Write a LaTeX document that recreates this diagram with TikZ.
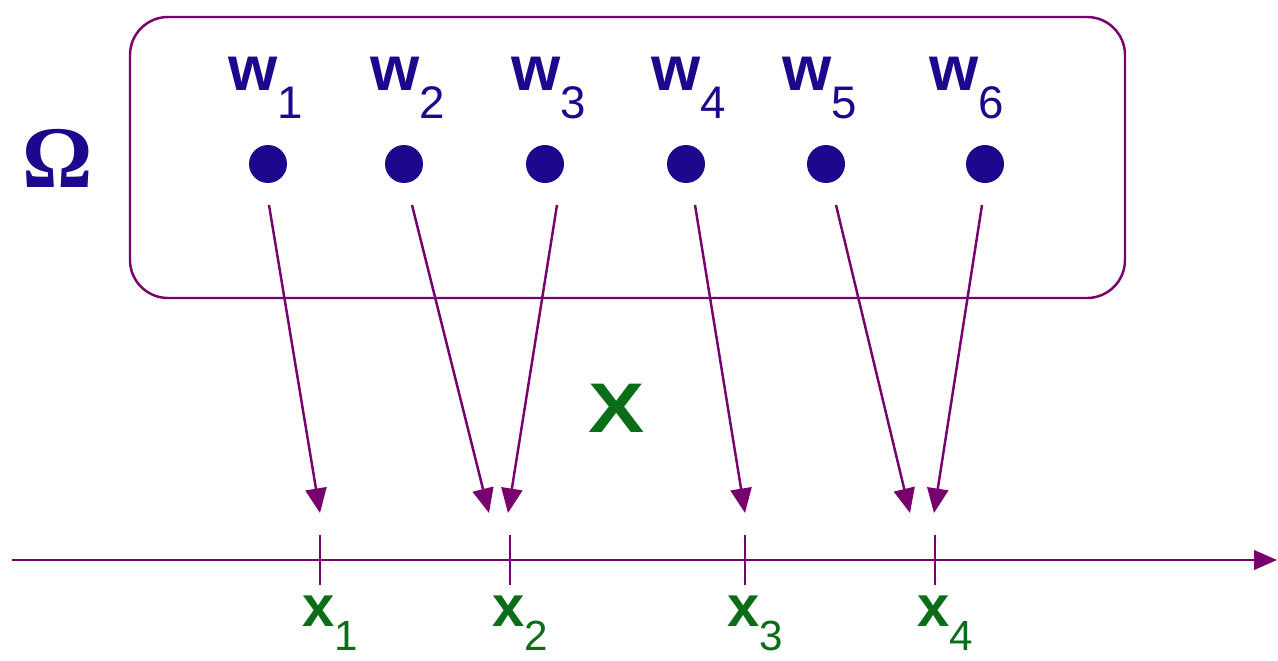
\documentclass[tikz,border=0pt]{standalone}
\usepackage{fontspec}
\setmainfont{Liberation Sans}
\newfontfamily\omegafont{Liberation Serif}
\usetikzlibrary{arrows.meta}
\definecolor{dotblue}{RGB}{28,8,140}
\definecolor{lineviolet}{RGB}{120,0,110}
\definecolor{labgreen}{RGB}{10,110,25}
\newcommand{\wsub}[1]{\raisebox{-16pt}{\mdseries\fontsize{26}{26}\selectfont #1}}
\newcommand{\xsub}[1]{\raisebox{-14pt}{\mdseries\fontsize{24}{24}\selectfont #1}}
\begin{document}
\begin{tikzpicture}[x=0.02cm,y=-0.02cm,
  dot/.style={circle,fill=dotblue,inner sep=0pt,minimum size=0.76cm},
  wlab/.style={text=dotblue,font=\fontsize{36}{36}\selectfont\bfseries,inner sep=0pt,anchor=base},
  xlab/.style={text=labgreen,font=\fontsize{33}{33}\selectfont\bfseries,inner sep=0pt,anchor=base},
  maparrow/.style={draw=lineviolet,line width=1.4pt,-{Triangle[length=14pt,width=12pt]}},
  tickline/.style={draw=lineviolet,line width=1.1pt},
  axisline/.style={draw=lineviolet,line width=1.4pt,-{Triangle[length=13pt,width=11pt]}}
]
\useasboundingbox (0,0) rectangle (1278,660);
% sample space box
\draw[lineviolet,line width=1.4pt,rounded corners=0.76cm] (130,17) rectangle (1125,298);
\node[text=dotblue,font=\omegafont\bfseries\fontsize{50}{50}\selectfont,inner sep=0pt] (omega) at (58,158) {Ω};
% points
\foreach \i/\x in {1/268,2/404,3/545,4/686,5/826,6/985}{
  \node[dot] (w\i) at (\x,164) {};
}
\foreach \i/\x in {1/266,2/408,3/549,4/689,5/820,6/967}{
  \node[wlab] (lw\i) at (\x,90) {w\wsub{\i}};
}
% axis
\coordinate (axL) at (12,560);
\coordinate (axR) at (1277,560);
\draw[axisline] (axL) -- (axR);
\foreach \i/\x in {1/320,2/510,3/745,4/935}{
  \coordinate (tt\i) at (\x,535);
  \coordinate (tb\i) at (\x,585);
  \draw[tickline] (tt\i) -- (tb\i);
  \node[xlab] (lx\i) at (\x+10,626) {x\xsub{\i}};
}
% arrow ends
\coordinate (e1) at (320,513);
\coordinate (e2) at (489,513);
\coordinate (e3) at (508,513);
\coordinate (e4) at (745,513);
\coordinate (e5) at (910,513);
\coordinate (e6) at (934,513);
\coordinate (s1) at (269,205);
\coordinate (s2) at (412,205);
\coordinate (s3) at (557,205);
\coordinate (s4) at (695,205);
\coordinate (s5) at (836,205);
\coordinate (s6) at (982,205);
\foreach \i in {1,...,6}{\draw[maparrow] (s\i) -- (e\i);}
\node[text=labgreen,font=\fontsize{40}{40}\selectfont\bfseries,inner sep=0pt] (Xlab) at (617,408) {\scalebox{1.2}[1]{X}};
\end{tikzpicture}
\end{document}
